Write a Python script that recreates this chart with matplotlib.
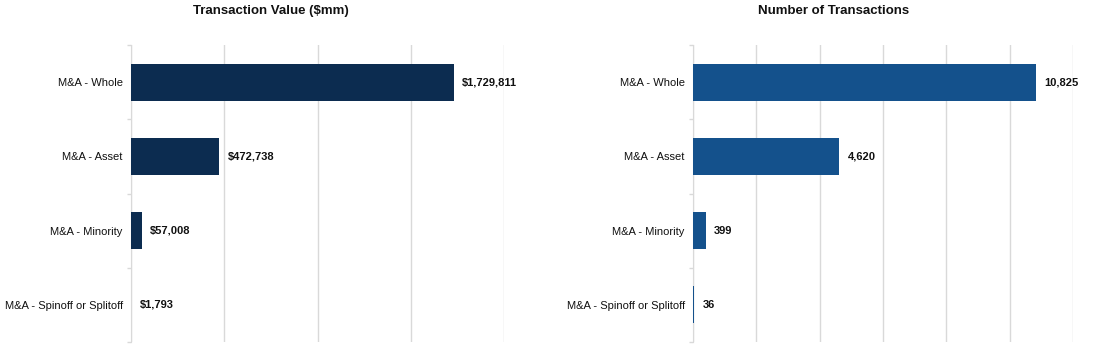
import numpy as np
import matplotlib.pyplot as plt

plt.rcParams['font.family'] = ['Liberation Sans', 'DejaVu Sans']

# ----------------------------
# data
# ----------------------------
categories = ["M&A - Whole", "M&A - Asset", "M&A - Minority", "M&A - Spinoff or Splitoff"]
tx_value = [1729811, 472738, 57008, 1793]
tx_count = [10825, 4620, 399, 36]

value_labels = ["$1,729,811", "$472,738", "$57,008", "$1,793"]
count_labels = ["10,825", "4,620", "399", "36"]

GRID = "#d9d9d9"


def draw_panel(ax, vals, labels, xmax, step, color):
    y = np.arange(len(categories))
    ax.barh(y, vals, height=0.5, color=color, zorder=3)
    ax.set_ylim(len(categories) - 0.5, -0.5)
    ax.set_xlim(0, xmax)
    ax.set_xticks(np.arange(0, xmax + 1, step))
    ax.xaxis.grid(True, color=GRID, linewidth=1, zorder=0)
    ax.tick_params(axis="x", length=0, labelbottom=False)

    ax.set_yticks(y)
    ax.set_yticklabels(categories, fontsize=8, color="#111111")
    ax.set_yticks(np.arange(len(categories) + 1) - 0.5, minor=True)
    ax.tick_params(axis="y", which="major", length=0, pad=6)
    ax.tick_params(axis="y", which="minor", length=3, color=GRID, width=1)

    for s in ["top", "right", "bottom"]:
        ax.spines[s].set_visible(False)
    ax.spines["left"].set_color(GRID)

    for yi, v, t in zip(y, vals, labels):
        ax.annotate(t, (v, yi), xytext=(6, 0), textcoords="offset points",
                    va="center", ha="left", fontsize=8, fontweight="bold",
                    color="#111111")


fig = plt.figure(figsize=(11.15, 3.54), dpi=100)
W, H = 1115, 354
top, bottom = 45, 342

ax1 = fig.add_axes([131 / W, 1 - bottom / H, (504 - 131) / W, (bottom - top) / H])
ax2 = fig.add_axes([693 / W, 1 - bottom / H, (1073 - 693) / W, (bottom - top) / H])

draw_panel(ax1, tx_value, value_labels, 2000000, 500000, "#0c2c50")
draw_panel(ax2, tx_count, count_labels, 12000, 2000, "#14518c")

fig.text(271 / W, 1 - 11 / H, "Transaction Value ($mm)", ha="center", va="center",
         fontsize=9.5, fontweight="bold", color="#111111")
fig.text(834 / W, 1 - 11 / H, "Number of Transactions", ha="center", va="center",
         fontsize=9.5, fontweight="bold", color="#111111")

fig.savefig("out.png", dpi=100)
